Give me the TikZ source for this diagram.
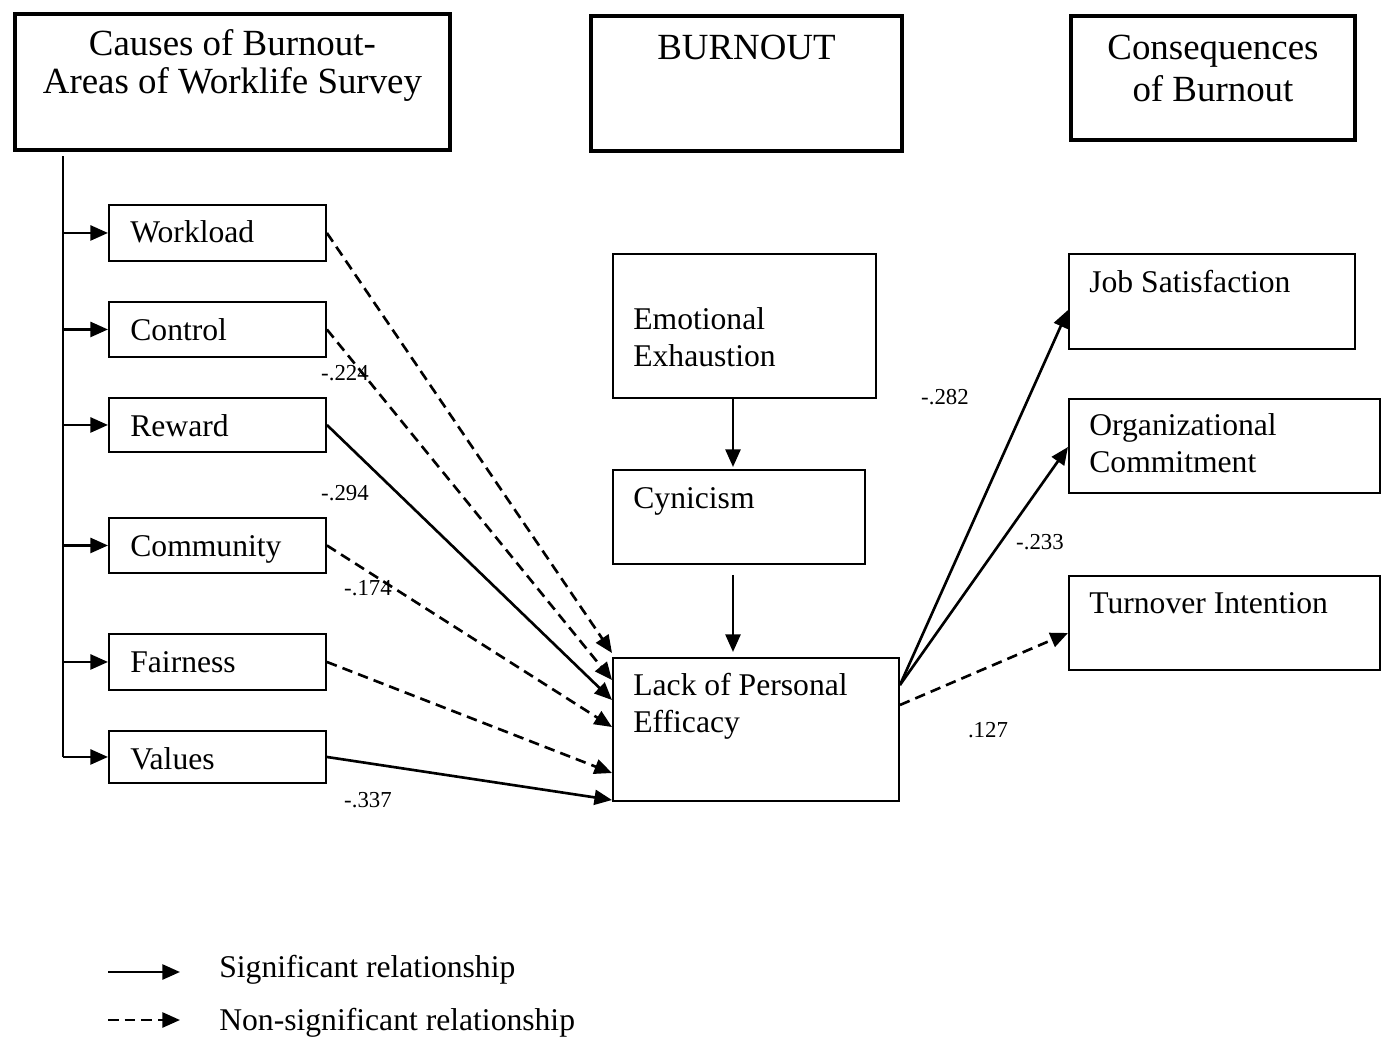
\documentclass[tikz,border=0pt]{standalone}
\usepackage{fontspec}
\setmainfont{Liberation Serif}
\usetikzlibrary{arrows.meta,calc}
% two stacked lines, baseline on the first one
\newcommand\stackL[2]{\begin{tabular}[t]{@{}l@{}}#1\\#2\end{tabular}}
\newcommand\stackC[2]{\begin{tabular}[t]{@{}c@{}}#1\\#2\end{tabular}}
\begin{document}
\begin{tikzpicture}[x=0.02cm,y=-0.02cm,
  sz/.style 2 args={minimum width=#1*0.02cm, minimum height=#2*0.02cm},
  head/.style={draw, line width=2.8pt, inner sep=0pt, anchor=north west},
  box/.style={draw, line width=1.1pt, inner sep=0pt, anchor=north west},
  boxtext/.style={inner sep=0pt, anchor=base west, font=\fontsize{18}{21.5}\selectfont},
  headtext/.style={inner sep=0pt, anchor=base, font=\fontsize{21}{22}\selectfont},
  coef/.style={inner sep=0pt, font=\fontsize{13}{15}\selectfont},
  sig/.style={line width=1.5pt, -{Triangle[length=10pt,width=8.5pt]}},
  nonsig/.style={sig, dash pattern=on 6pt off 3.5pt},
]
\useasboundingbox (0,0) rectangle (1387,1041);

% ---- column headers
\node[head, sz={435}{136}] (h1) at (12.5,11.5) {};
\node[headtext] (h1t) at ($(h1.north)+(0,43.5)$) {\stackC{Causes of Burnout-}{Areas of Worklife Survey}};
\node[head, sz={311}{135}] (h2) at (588.5,13.5) {};
\node[headtext] (h2t) at ($(h2.north)+(0,45.5)$) {BURNOUT};
\node[head, sz={284}{124}] (h3) at (1068.5,13.5) {};
\node[headtext, font=\fontsize{21}{24}\selectfont] (h3t) at ($(h3.north)+(0,45.5)$) {\stackC{Consequences}{of Burnout}};

% ---- areas of worklife
\node[box, sz={217}{56}] (wl) at (108,204) {};
\node[box, sz={217}{55}] (ct) at (108,301) {};
\node[box, sz={217}{54}] (rw) at (108,397) {};
\node[box, sz={217}{55}] (cm) at (108,517) {};
\node[box, sz={217}{56}] (fr) at (108,633) {};
\node[box, sz={217}{52}] (vl) at (108,730) {};
\node[boxtext] (wlt) at ($(wl.north west)+(22,38)$) {Workload};
\node[boxtext] (ctt) at ($(ct.north west)+(22,39)$) {Control};
\node[boxtext] (rwt) at ($(rw.north west)+(22,39)$) {Reward};
\node[boxtext] (cmt) at ($(cm.north west)+(22,39)$) {Community};
\node[boxtext] (frt) at ($(fr.north west)+(22,39)$) {Fairness};
\node[boxtext] (vlt) at ($(vl.north west)+(22,39)$) {Values};

% ---- burnout dimensions
\node[box, sz={263}{144}] (ee) at (612,253) {};
\node[box, sz={252}{94}] (cy) at (612,469) {};
\node[box, sz={286}{143}] (lpe) at (612,657) {};
\node[boxtext] (eet) at ($(ee.north west)+(21,76)$) {\stackL{Emotional}{Exhaustion}};
\node[boxtext] (cyt) at ($(cy.north west)+(21,39)$) {Cynicism};
\node[boxtext] (lpet) at ($(lpe.north west)+(21,38)$) {\stackL{Lack of Personal}{Efficacy}};

% ---- consequences
\node[box, sz={286}{95}] (js) at (1068,253) {};
\node[box, sz={311}{94}] (oc) at (1068,398) {};
\node[box, sz={311}{94}] (ti) at (1068,575) {};
\node[boxtext] (jst) at ($(js.north west)+(21,39)$) {Job Satisfaction};
\node[boxtext] (oct) at ($(oc.north west)+(21,37)$) {\stackL{Organizational}{Commitment}};
\node[boxtext] (tit) at ($(ti.north west)+(21,38)$) {Turnover Intention};

% ---- trunk feeding the six areas
\coordinate (tTop) at (63,156);
\coordinate (tBot) at (63,757);
\draw[line width=1.4pt] (tTop) -- (tBot);
\foreach \b in {wl,ct,rw,cm,fr,vl}
  \draw[sig] (tTop |- \b.west) -- (\b.west);

% ---- areas -> lack of personal efficacy
\draw[nonsig] (wl.east) -- ($(lpe.north west)+(0,-4)$);
\draw[nonsig] (ct.east) -- ($(lpe.north west)+(0,23)$);
\draw[sig]    (rw.east) -- ($(lpe.north west)+(0,43)$);
\draw[nonsig] (cm.east) -- ($(lpe.north west)+(0,70)$);
\draw[nonsig] (fr.east) -- ($(lpe.north west)+(0,116)$);
\draw[sig]    (vl.east) -- ($(lpe.north west)+(0,143)$);

% ---- burnout chain
\draw[sig] ($(ee.south west)+(121,0)$) -- ($(cy.north west)+(121,-2)$);
\draw[sig] ($(cy.south west)+(121,10)$) -- ($(lpe.north west)+(121,-5)$);

% ---- lack of personal efficacy -> consequences
\draw[sig]    ($(lpe.north east)+(0,28)$) -- ($(js.north west)+(0,57)$);
\draw[sig]    ($(lpe.north east)+(0,28)$) -- ($(oc.north west)+(0,49)$);
\draw[nonsig] ($(lpe.north east)+(0,48)$) -- ($(ti.north west)+(0,58)$);

% ---- path coefficients
\node[coef] (c1) at (345,373) {-.224};
\node[coef] (c2) at (345,493) {-.294};
\node[coef] (c3) at (368,588) {-.174};
\node[coef] (c4) at (368,800) {-.337};
\node[coef] (c5) at (945,397) {-.282};
\node[coef] (c6) at (1040,542) {-.233};
\node[coef] (c7) at (988,730) {.127};

% ---- legend
\coordinate (lg1a) at (108,972);
\coordinate (lg1b) at (180,972);
\coordinate (lg2a) at (108,1020);
\coordinate (lg2b) at (180,1020);
\draw[sig] (lg1a) -- (lg1b);
\draw[nonsig] (lg2a) -- (lg2b);
\node[boxtext] (lg1t) at (219,977) {Significant relationship};
\node[boxtext] (lg2t) at (219,1030) {Non-significant relationship};
\end{tikzpicture}
\end{document}
